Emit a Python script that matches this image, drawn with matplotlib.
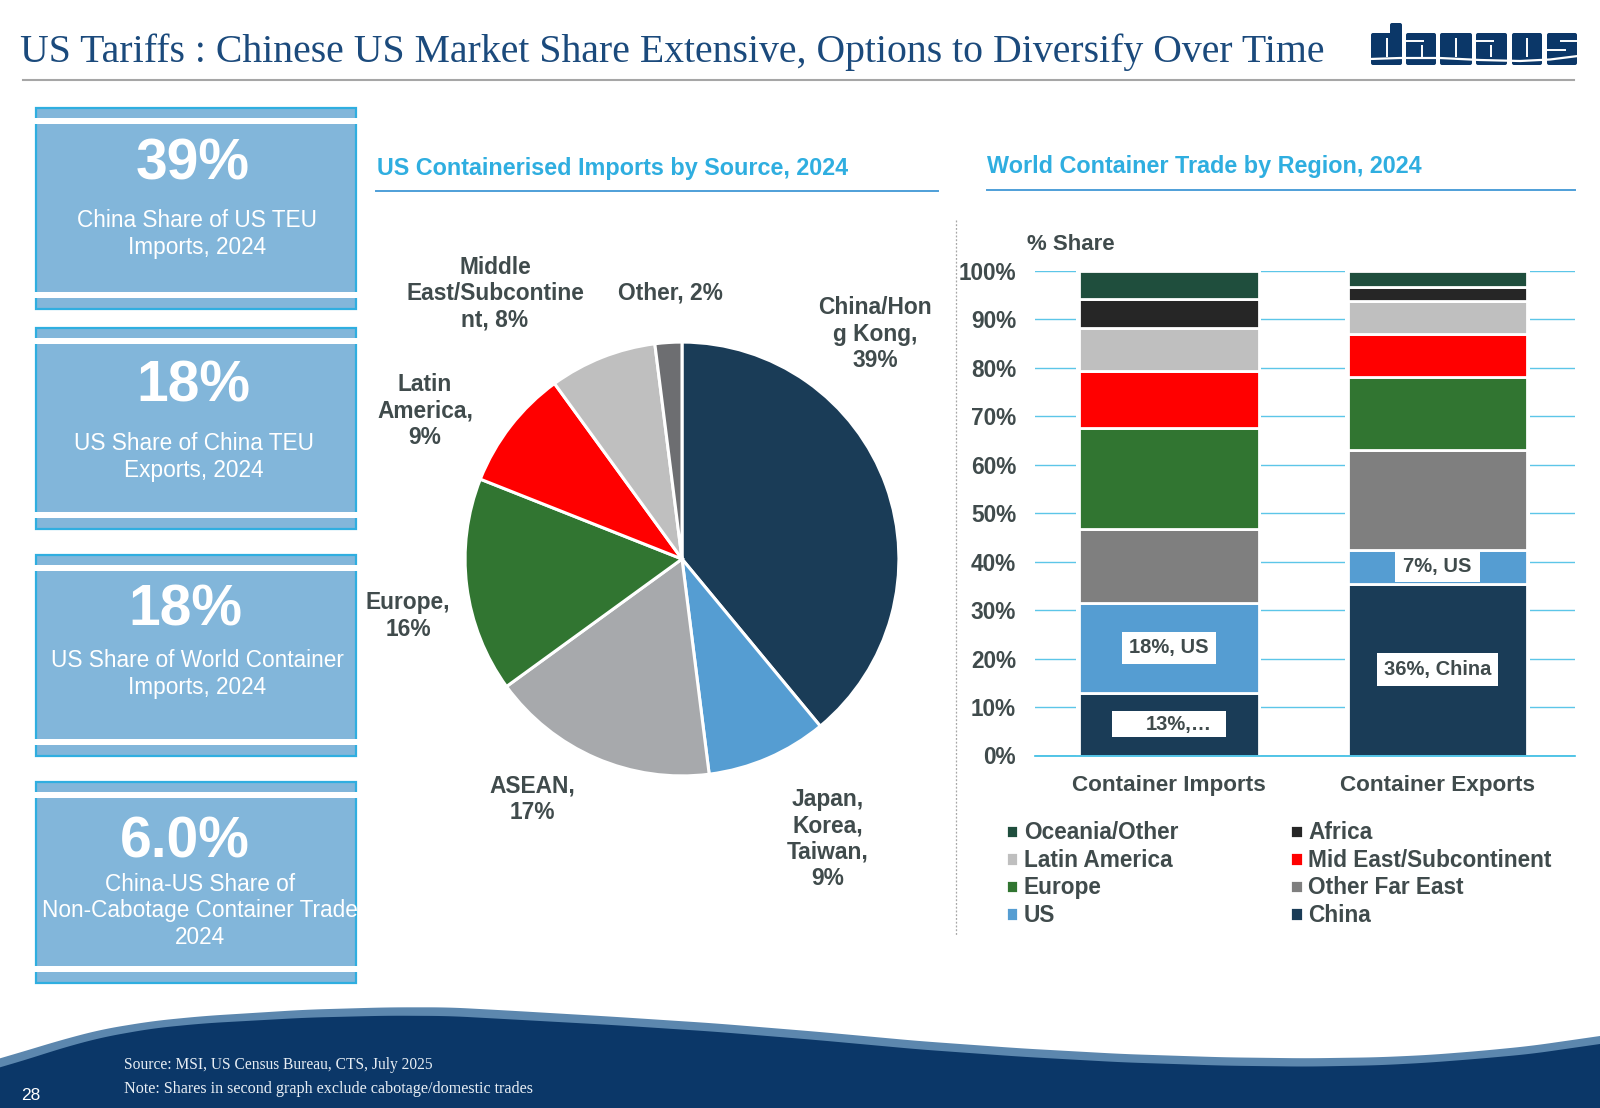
import numpy as np
import matplotlib
matplotlib.use('Agg')
import matplotlib.pyplot as plt
from matplotlib.patches import Rectangle, FancyBboxPatch, Polygon

W, H = 1600, 1108
SANS = 'Liberation Sans'
SERIF = 'Liberation Serif'
GREY_TXT = '#404B4C'

# pie data
pie_labels = ['China/Hon\ng Kong,\n39%', 'Japan,\nKorea,\nTaiwan,\n9%', 'ASEAN,\n17%', 'Europe,\n16%',
              'Latin\nAmerica,\n9%', 'Middle\nEast/Subcontine\nnt, 8%', 'Other, 2%']
pie_values = [39, 9, 17, 16, 9, 8, 2]
pie_colors = ['#1A3C57', '#559DD2', '#A7A9AC', '#317531', '#FF0000', '#BFBFBF', '#6D6E71']
pie_label_xy = [(875, 334), (828, 839), (532, 799), (408, 616), (425, 411), (495, 294), (670, 293)]

# stacked bars
bar_cats = ['Container Imports', 'Container Exports']
series_names = ['China', 'US', 'Other Far East', 'Europe', 'Mid East/Subcontinent',
                'Latin America', 'Africa', 'Oceania/Other']
series_colors = ['#1A3C57', '#559DD2', '#7F7F7F', '#317531', '#FF0000', '#BFBFBF', '#262626', '#1F4E3D']
imports_share = [12.9, 18.6, 15.2, 20.8, 11.8, 8.9, 6.1, 5.7]
exports_share = [35.5, 7.0, 20.5, 15.2, 8.9, 6.7, 2.9, 3.3]

# left hand boxes
box_tops = [108, 328, 555, 782]
box_big = ['39%', '18%', '18%', '6.0%']
box_big_xy = [(193, 165), (193, 387), (185, 610), (185, 843)]
box_desc = ['China Share of US TEU\nImports, 2024', 'US Share of China TEU\nExports, 2024',
            'US Share of World Container\nImports, 2024', 'China-US Share of\nNon-Cabotage Container Trade\n2024']
box_desc_xy = [(197, 234), (194, 457), (197, 674), (200, 911)]

fig = plt.figure(figsize=(W / 100, H / 100), dpi=100, facecolor='white')

# full figure overlay in pixel coordinates, y pointing down
bg = fig.add_axes([0, 0, 1, 1])
bg.set_xlim(0, W)
bg.set_ylim(H, 0)
bg.axis('off')

bg.text(20, 52, 'US Tariffs : Chinese US Market Share Extensive, Options to Diversify Over Time',
        family=SERIF, fontsize=28.6, color='#1B4A7C', va='center', ha='left')
bg.plot([23, 1574], [79.5, 79.5], color='#A6A6A6', lw=1.5)

# logo blocks
navy = '#0B3768'
letters = [(1371, 1402), (1406, 1436), (1440, 1472), (1476, 1507), (1512, 1542), (1547, 1577)]
for x0, x1 in letters:
    bg.add_patch(FancyBboxPatch((x0 + 1, 34), x1 - x0 - 2, 30, boxstyle='round,pad=1,rounding_size=2',
                                fc=navy, ec='none'))
bg.add_patch(FancyBboxPatch((1391, 24), 10, 14, boxstyle='round,pad=1,rounding_size=2', fc=navy, ec='none'))
# letter counters
for x, y0, y1 in [(1387, 38, 57), (1422, 45, 57), (1456, 38, 57), (1491, 45, 57), (1527, 38, 57)]:
    bg.plot([x, x], [y0, y1], color='white', lw=1.4, solid_capstyle='butt')
for x0, x1, y in [(1406, 1424, 41), (1476, 1494, 41), (1560, 1578, 41), (1547, 1566, 50)]:
    bg.plot([x0, x1], [y, y], color='white', lw=1.4, solid_capstyle='butt')
swoosh_x = [1370, 1400, 1440, 1480, 1520, 1550, 1578]
swoosh_y = [59, 58, 58, 60, 61, 59.5, 56]
bg.plot(swoosh_x, swoosh_y, color='white', lw=1.6)

# left boxes
box_fill = '#82B6DA'
box_edge = '#2FAEE0'
bx0, bx1 = 36, 356
for top, big, (bgx, bgy), desc, (dx, dy) in zip(box_tops, box_big, box_big_xy, box_desc, box_desc_xy):
    bg.add_patch(Rectangle((bx0, top), bx1 - bx0, 201, fc=box_fill, ec=box_edge, lw=1.6))
    bg.add_patch(Rectangle((bx0 - 2, top + 10), bx1 - bx0 + 4, 6, fc='white', ec='none'))
    bg.add_patch(Rectangle((bx0 - 2, top + 184), bx1 - bx0 + 4, 6, fc='white', ec='none'))
    bg.text(bgx, bgy, big, family=SANS, weight='bold', fontsize=41, color='white', ha='center', va='center')
    bg.text(dx, dy, desc, family=SANS, fontsize=16.25, color='white', ha='center', va='center', linespacing=1.22)

# section headings
head_col = '#2FAEE0'
bg.text(377, 169, 'US Containerised Imports by Source, 2024', family=SANS, weight='bold', fontsize=16.8,
        color=head_col, va='center')
bg.plot([376, 938], [191, 191], color='#4E9FD8', lw=1.4)
bg.text(987, 167, 'World Container Trade by Region, 2024', family=SANS, weight='bold', fontsize=16.85,
        color=head_col, va='center')
bg.plot([987, 1575], [190, 190], color='#4E9FD8', lw=1.4)
bg.plot([956, 956], [220, 935], color='#A6A6A6', lw=0.9, ls=(0, (1.5, 1.5)))

# pie
cx, cy, r = 682, 559, 218
pie_ax = fig.add_axes([(cx - r) / W, 1 - (cy + r) / H, 2 * r / W, 2 * r / H])
pie_ax.pie(pie_values, colors=pie_colors, startangle=90, counterclock=False, radius=1,
           wedgeprops={'edgecolor': 'white', 'linewidth': 2.2})
pie_ax.set_xlim(-1.005, 1.005)
pie_ax.set_ylim(-1.005, 1.005)
for lab, (lx, ly) in zip(pie_labels, pie_label_xy):
    bg.text(lx, ly, lab, family=SANS, weight='bold', fontsize=16.4, color=GREY_TXT, ha='center', va='center',
            linespacing=1.18)

# stacked bars
ax0, ax1, ay100, ay0 = 1035, 1575, 271, 755.5
bar_ax = fig.add_axes([ax0 / W, 1 - ay0 / H, (ax1 - ax0) / W, (ay0 - ay100) / H])
bar_ax.patch.set_alpha(0)
x = np.array([-0.004, 0.99])
bw = 0.665
bottoms = np.zeros(2)
handles = []
bar_ax.bar(x, 100, bw * 1.03, color='white', zorder=1.5)
for name, col, a, b in zip(series_names, series_colors, imports_share, exports_share):
    vals = np.array([a, b])
    h = bar_ax.bar(x, vals, bw, bottom=bottoms, color=col, edgecolor='white', linewidth=2, zorder=2, label=name)
    handles.append(h)
    bottoms = bottoms + vals
bar_ax.set_xlim(-0.5, 1.5)
bar_ax.set_ylim(0, 100)
bar_ax.set_yticks(np.arange(0, 101, 10))
bar_ax.set_yticklabels([f'{v}%' for v in range(0, 101, 10)], family=SANS, weight='bold', fontsize=16.3, color=GREY_TXT)
bar_ax.set_xticks(x)
bar_ax.set_xticklabels(bar_cats, family=SANS, weight='bold', fontsize=16.2, color=GREY_TXT)
bar_ax.tick_params(length=0, pad=13.5, axis='y')
bar_ax.tick_params(length=0, pad=14, axis='x')
bar_ax.grid(axis='y', color='#5CC6E8', lw=1, zorder=1)
bar_ax.set_axisbelow(True)
for s in ['top', 'right', 'left']:
    bar_ax.spines[s].set_visible(False)
bar_ax.spines['bottom'].set_color('#36BBE3')
bar_ax.spines['bottom'].set_linewidth(1.2)
bar_ax.spines['bottom'].set_zorder(5)

lab_kw = dict(family=SANS, weight='bold', fontsize=14.5, color=GREY_TXT, ha='center', va='center', zorder=4)
box_kw = dict(fc='white', ec='none', pad=5)
bar_ax.text(x[0], 12.9 + 18.6 / 2, '18%, US', bbox=box_kw, **lab_kw)
bar_ax.add_patch(Rectangle((x[1] - 0.157, 35.8), 0.314, 6.5, fc='white', ec='none', zorder=3))
bar_ax.text(x[1], 35.5 + 3.5, '7%, US', **lab_kw)
bar_ax.text(x[1], 17.7, '36%, China', bbox=box_kw, **lab_kw)
bar_ax.add_patch(Rectangle((x[0] - 0.212, 3.8), 0.424, 5.3, fc='white', ec='none', zorder=3))
bar_ax.text(x[0] + 0.038, 6.4, '13%,…', **lab_kw)

bg.text(1027, 245, '% Share', family=SANS, weight='bold', fontsize=16, color=GREY_TXT, va='center')

# legend, column-first order so rows read as in the chart
order = [7, 5, 3, 1, 6, 4, 2, 0]
leg = bar_ax.legend([handles[i][0] for i in order], [series_names[i] for i in order], ncol=2,
                    loc='upper left', bbox_to_anchor=(-0.054, -0.136), frameon=False,
                    prop={'family': SANS, 'weight': 'bold', 'size': 16.3},
                    handlelength=0.55, handleheight=0.55, handletextpad=0.25, columnspacing=4.95,
                    labelspacing=0.2, borderpad=0, borderaxespad=0)
for t in leg.get_texts():
    t.set_color(GREY_TXT)

# footer wave
wave_x = np.array([0, 30, 60, 100, 150, 200, 300, 380, 440, 500, 600, 700, 800, 900, 1000, 1100,
                   1200, 1280, 1350, 1400, 1450, 1500, 1568]) / 0.98
light_y = 960 + np.array([295, 268, 240, 208, 183, 168, 149, 142, 142, 152, 170, 190, 215, 243, 265, 282,
                          292, 295, 292, 285, 273, 258, 228]) / 3
dark_y = 960 + np.array([322, 295, 265, 232, 205, 190, 173, 167, 168, 178, 195, 215, 240, 268, 290, 307,
                         317, 320, 316, 308, 296, 282, 252]) / 3
xs = np.arange(0, W + 1)
win = np.ones(41) / 41
for ys, col in [(light_y, '#5C87AE'), (dark_y, '#0B3768')]:
    top = np.interp(xs, wave_x, ys)
    top = np.convolve(np.pad(top, 20, mode='reflect', reflect_type='odd'), win, mode='valid')
    bg.add_patch(Polygon(np.vstack([np.column_stack([xs, top]), [[W, H], [0, H]]]), fc=col, ec='none'))

bg.text(124, 1065, 'Source: MSI, US Census Bureau, CTS, July 2025', family=SERIF, fontsize=11.2, color='#E8EEF4', va='center')
bg.text(124, 1089, 'Note: Shares in second graph exclude cabotage/domestic trades', family=SERIF, fontsize=11.6, color='#E8EEF4', va='center')
bg.text(21, 1096, '28', family=SANS, fontsize=12.5, color='white', va='center')

fig.savefig('out.png', dpi=100, facecolor='white')
